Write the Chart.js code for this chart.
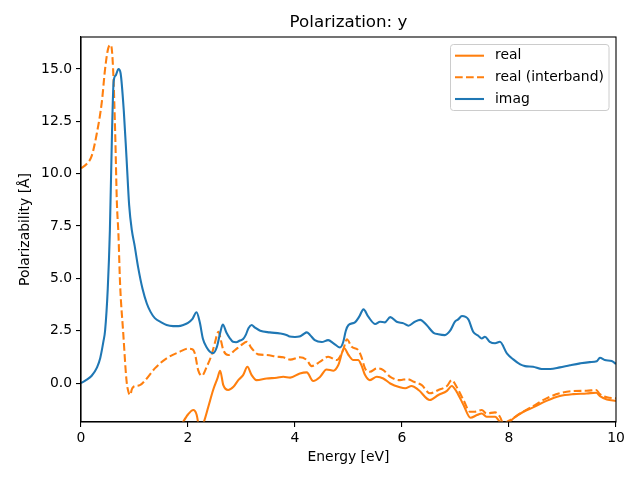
<!DOCTYPE html>
<html>
<head>
<meta charset="utf-8">
<script src="https://cdn.jsdelivr.net/npm/chart.js@4/dist/chart.umd.min.js"></script>
<style>
html,body{margin:0;padding:0;background:#fff;}
#wrap{width:640px;height:480px;}
</style>
</head>
<body>
<div id="wrap"><canvas id="c" width="640" height="480"></canvas></div>
<script>
const imagE = [0.0,0.1,0.2,0.3,0.36,0.42,0.45,0.5,0.54,0.58,0.61,0.65,0.70,0.74,0.8,0.85,0.9,0.95,1.0,1.07,1.15,1.23,1.3,1.38,1.5,1.6,1.72,1.82,1.92,2.0,2.08,2.16,2.22,2.28,2.35,2.41,2.47,2.54,2.6,2.65,2.72,2.78,2.84,2.9,2.97,3.03,3.08,3.13,3.19,3.25,3.35,3.53,3.72,3.84,3.9,4.0,4.08,4.15,4.22,4.28,4.37,4.5,4.62,4.72,4.84,4.9,4.95,5.0,5.12,5.2,5.28,5.37,5.5,5.59,5.68,5.78,5.9,6.03,6.12,6.24,6.34,6.46,6.59,6.68,6.8,6.9,6.99,7.05,7.12,7.24,7.33,7.43,7.49,7.55,7.64,7.74,7.83,7.96,8.08,8.21,8.3,8.45,8.61,8.77,8.95,9.14,9.33,9.51,9.64,9.7,9.79,9.92,10.0];
const imagV = [0.0,0.15,0.35,0.75,1.2,2.0,2.5,4.5,7.3,12.0,14.4,14.7,15.0,14.8,13.0,10.8,8.5,7.3,6.6,5.5,4.5,3.8,3.4,3.1,2.9,2.77,2.72,2.72,2.78,2.87,3.05,3.38,2.9,2.1,1.7,1.5,1.43,1.73,2.38,2.8,2.4,2.15,1.97,1.95,2.03,2.1,2.3,2.62,2.77,2.65,2.5,2.42,2.37,2.3,2.22,2.2,2.22,2.32,2.42,2.3,2.05,1.96,2.05,1.9,1.7,1.95,2.5,2.77,2.9,3.17,3.52,3.17,2.82,2.93,2.9,3.15,2.93,2.85,2.74,2.93,3.02,2.77,2.4,2.33,2.29,2.5,2.93,3.04,3.2,3.04,2.45,2.25,2.13,2.21,1.97,1.9,1.97,1.42,1.13,0.89,0.81,0.78,0.67,0.67,0.75,0.85,0.94,1.0,1.04,1.21,1.1,1.05,0.91];

const interE = [0.0,0.1,0.2,0.29,0.39,0.45,0.51,0.56,0.6,0.64,0.67,0.7,0.73,0.79,0.85,0.89,0.92,0.95,0.98,1.1,1.23,1.38,1.6,1.85,2.0,2.08,2.13,2.19,2.26,2.35,2.44,2.5,2.57,2.6,2.66,2.75,2.88,3.0,3.1,3.19,3.31,3.47,3.66,3.78,3.91,4.09,4.22,4.31,4.47,4.62,4.78,4.9,4.97,5.06,5.18,5.24,5.31,5.4,5.53,5.65,5.78,5.96,6.1,6.22,6.37,6.52,6.68,6.84,6.93,7.02,7.15,7.27,7.36,7.49,7.58,7.74,7.83,7.9,7.96,8.02,8.21,8.45,8.7,8.95,9.2,9.45,9.63,9.7,9.83,10.0];
const interV = [10.26,10.45,10.85,11.85,13.44,15.0,16.0,16.15,15.0,11.85,8.66,7.1,4.76,2.37,0.14,-0.45,-0.57,-0.3,-0.18,-0.1,0.22,0.7,1.18,1.5,1.64,1.62,1.4,0.62,0.35,0.78,1.34,1.9,2.45,2.21,1.58,1.34,1.58,1.82,1.97,1.66,1.37,1.34,1.26,1.23,1.12,1.23,1.1,0.81,1.02,1.26,1.1,1.58,2.09,1.73,1.58,1.26,0.7,0.54,0.7,0.62,0.3,0.14,0.19,0.06,-0.1,-0.49,-0.33,-0.14,0.14,-0.18,-0.81,-1.37,-1.37,-1.29,-1.45,-1.4,-1.61,-1.95,-1.85,-1.77,-1.45,-1.1,-0.73,-0.49,-0.38,-0.37,-0.33,-0.53,-0.68,-0.73];

const realE = [1.5,1.75,1.91,2.0,2.1,2.16,2.22,2.29,2.38,2.47,2.55,2.6,2.66,2.75,2.85,2.94,3.03,3.11,3.19,3.28,3.47,3.66,3.78,3.91,4.09,4.22,4.34,4.47,4.59,4.72,4.81,4.92,5.0,5.09,5.18,5.24,5.31,5.4,5.53,5.65,5.78,5.96,6.06,6.18,6.31,6.52,6.68,6.84,6.93,7.02,7.15,7.28,7.4,7.49,7.58,7.74,7.83,7.92,8.0,8.08,8.27,8.45,8.7,8.95,9.2,9.45,9.63,9.7,9.83,10.0];
const realV = [-4.0,-2.6,-1.85,-1.5,-1.29,-1.5,-2.2,-1.9,-1.13,-0.33,0.22,0.59,-0.1,-0.33,-0.18,0.14,0.38,0.78,0.38,0.14,0.22,0.25,0.3,0.26,0.46,0.51,0.1,0.3,0.65,0.59,0.86,1.66,1.34,1.1,1.1,0.86,0.38,0.14,0.3,0.22,-0.02,-0.2,-0.25,-0.14,-0.33,-0.81,-0.57,-0.37,-0.14,-0.41,-1.05,-1.66,-1.53,-1.45,-1.61,-1.61,-1.85,-2.1,-1.9,-1.69,-1.37,-1.16,-0.85,-0.62,-0.53,-0.5,-0.46,-0.62,-0.78,-0.85];

const xTicks = [0,2,4,6,8,10];
const yTicks = [0,2.5,5,7.5,10,12.5,15];
const seriesLabels = ['real','real (interband)','imag'];
const titleText = 'Polarization: y';

const ORANGE = '#ff7f0e', BLUE = '#1f77b4';
const FONT = 'DejaVu Sans';

function pts(xs, ys){ return xs.map((x,i)=>({x:x, y:ys[i]})); }

const frame = {
  id:'frame',
  afterDatasetsDraw(chart){
    const {ctx, chartArea:a} = chart;
    ctx.save();
    ctx.strokeStyle = '#000';
    ctx.lineWidth = 1.1;
    ctx.strokeRect(a.left, a.top, a.right-a.left, a.bottom-a.top);
    ctx.restore();
  },
  afterDraw(chart){
    const {ctx, chartArea:a} = chart;
    ctx.save();
    // title centred over the axes
    ctx.fillStyle='#000';
    ctx.font='16.7px "'+FONT+'"';
    ctx.textAlign='center';
    ctx.textBaseline='middle';
    ctx.fillText(titleText,(a.left+a.right)/2,23);
    // legend box
    const x0=450.5, y0=44.5, w=158.5, h=66, r=3;
    ctx.beginPath();
    ctx.moveTo(x0+r,y0); ctx.lineTo(x0+w-r,y0); ctx.quadraticCurveTo(x0+w,y0,x0+w,y0+r);
    ctx.lineTo(x0+w,y0+h-r); ctx.quadraticCurveTo(x0+w,y0+h,x0+w-r,y0+h);
    ctx.lineTo(x0+r,y0+h); ctx.quadraticCurveTo(x0,y0+h,x0,y0+h-r);
    ctx.lineTo(x0,y0+r); ctx.quadraticCurveTo(x0,y0,x0+r,y0);
    ctx.closePath();
    ctx.fillStyle='rgba(255,255,255,0.8)';
    ctx.fill();
    ctx.strokeStyle='#cccccc';
    ctx.lineWidth=1;
    ctx.stroke();
    const rows=[55.7,77.3,99];
    const cols=[ORANGE,ORANGE,BLUE];
    const dashes=[[],[7.7,3.3],[]];
    for(let i=0;i<3;i++){
      ctx.beginPath();
      ctx.setLineDash(dashes[i]);
      ctx.strokeStyle=cols[i];
      ctx.lineWidth=2.08;
      ctx.moveTo(455,rows[i]); ctx.lineTo(484,rows[i]);
      ctx.stroke();
      ctx.setLineDash([]);
      ctx.fillStyle='#000';
      ctx.font='13.9px "'+FONT+'"';
      ctx.textBaseline='middle';
      ctx.textAlign='left';
      ctx.fillText(seriesLabels[i],495,rows[i]);
    }
    ctx.restore();
  }
};

new Chart(document.getElementById('c'), {
  type:'line',
  data:{
    datasets:[
      {label:seriesLabels[2], data:pts(imagE,imagV), borderColor:BLUE, borderWidth:2.08, pointRadius:0, cubicInterpolationMode:'monotone', fill:false},
      {label:seriesLabels[1], data:pts(interE,interV), borderColor:ORANGE, borderWidth:2.08, borderDash:[7.7,3.3], pointRadius:0, cubicInterpolationMode:'monotone', fill:false},
      {label:seriesLabels[0], data:pts(realE,realV), borderColor:ORANGE, borderWidth:2.08, pointRadius:0, cubicInterpolationMode:'monotone', fill:false}
    ]
  },
  options:{
    responsive:false,
    animation:false,
    devicePixelRatio:1,
    layout:{padding:{left:0,right:24,top:37,bottom:0}},
    plugins:{
      legend:{display:false},
      tooltip:{enabled:false},
      title:{display:false}
    },
    scales:{
      x:{
        type:'linear', min:0, max:10,
        afterFit(s){ s.height = 58; },
        afterBuildTicks(s){ s.ticks = xTicks.map(v=>({value:v})); },
        ticks:{color:'#000', font:{family:FONT,size:13.9}, padding:3, maxRotation:0, callback:(v)=>String(v)},
        grid:{display:true, drawOnChartArea:false, drawTicks:true, tickLength:5, color:'#000', lineWidth:1.1},
        border:{display:true, color:'#000', width:1.1},
        title:{display:true, text:'Energy [eV]', color:'#000', font:{family:FONT,size:13.9}, padding:{top:0,bottom:14.7}}
      },
      y:{
        type:'linear', min:-1.86, max:16.53,
        afterFit(s){ s.width = 81; },
        afterBuildTicks(s){ s.ticks = yTicks.map(v=>({value:v})); },
        ticks:{color:'#000', font:{family:FONT,size:13.9}, padding:4, callback:(v)=>Number(v).toFixed(1)},
        grid:{display:true, drawOnChartArea:false, drawTicks:true, tickLength:5, color:'#000', lineWidth:1.1},
        border:{display:true, color:'#000', width:1.1},
        title:{display:true, text:'Polarizability [Å]', color:'#000', font:{family:FONT,size:13.9}, padding:{top:16.7,bottom:0}}
      }
    }
  },
  plugins:[frame]
});
</script>
</body>
</html>
